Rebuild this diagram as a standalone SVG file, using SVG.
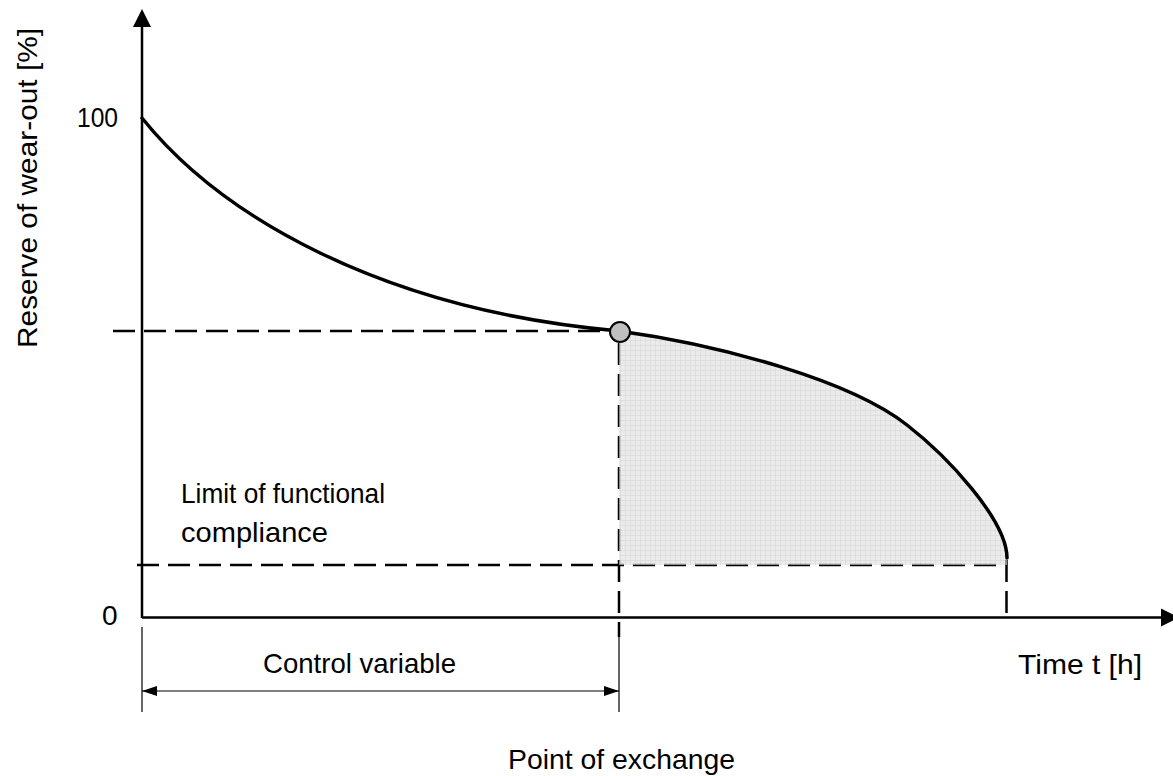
<svg xmlns="http://www.w3.org/2000/svg" width="1173" height="776" viewBox="0 0 1173 776">
<defs>
<pattern id="grid" width="5" height="5" patternUnits="userSpaceOnUse">
<rect width="5" height="5" fill="#dedede"/>
<path d="M0,0.5H5M0.5,0V5" stroke="#c4c4c4" stroke-width="0.7" fill="none"/>
</pattern>
<marker id="dimArr" viewBox="0 0 15 10" refX="15" refY="5" markerWidth="15" markerHeight="10" markerUnits="userSpaceOnUse" orient="auto-start-reverse">
<path d="M0,0L15,5L0,10Z" fill="#000"/>
</marker>
</defs>
<style>
text{font-family:"Liberation Sans",Arial,sans-serif;font-size:28px;fill:#000}
.axis{stroke:#000;stroke-width:2.5;fill:none}
.dash{stroke:#000;stroke-width:2.5;fill:none;stroke-dasharray:22 9}
.thin{stroke:#000;stroke-width:1.2;fill:none}
.curve{stroke:#000;stroke-width:3.5;fill:none;stroke-linecap:round}
</style>
<rect width="1173" height="776" fill="#fff"/>
<g id="axes">
<path class="axis" d="M142,618V24M142,617.5H1164"/>
<path d="M142,9L133,27H151Z" fill="#000"/>
<path d="M1179,617.5L1161,608.5V626.5Z" fill="#000"/>
</g>
<g id="connectors">
<path class="dash" d="M113,331H610"/>
<path class="dash" d="M137,565H1005"/>
<path class="dash" d="M619,343V637"/>
<path class="dash" d="M1006.5,560V618"/>
<path class="thin" d="M142,627V712M619,637V712"/>
<path class="thin" stroke-width="1.5" d="M142,691H619" marker-start="url(#dimArr)" marker-end="url(#dimArr)"/>
</g>
<g id="shaded-area">
<path d="M619,331C720,345 850,380 907,425C947,456 1007,520 1007,558V565H619Z" fill="url(#grid)" opacity="0.62"/>
</g>
<g id="wear-curve">
<path class="curve" d="M142,118C220,215 380,310 619,331C720,345 850,380 907,425C947,456 1007,520 1007,558"/>
</g>
<g id="point-of-exchange-marker">
<circle cx="620" cy="332" r="10" fill="#c0c0c0" stroke="#000" stroke-width="2"/>
</g>
<g id="labels">
<text x="77" y="127" textLength="41" lengthAdjust="spacingAndGlyphs">100</text>
<text x="102" y="625">0</text>
<text transform="translate(37,188) rotate(-90)" text-anchor="middle" textLength="320" lengthAdjust="spacingAndGlyphs">Reserve of wear-out [%]</text>
<text x="181" y="503" textLength="204" lengthAdjust="spacingAndGlyphs">Limit of functional</text>
<text x="181" y="542" textLength="147" lengthAdjust="spacingAndGlyphs">compliance</text>
<text x="263" y="673" textLength="193" lengthAdjust="spacingAndGlyphs">Control variable</text>
<text x="1018" y="674" textLength="124" lengthAdjust="spacingAndGlyphs">Time t [h]</text>
<text x="508" y="769" textLength="227" lengthAdjust="spacingAndGlyphs">Point of exchange</text>
</g>
</svg>
